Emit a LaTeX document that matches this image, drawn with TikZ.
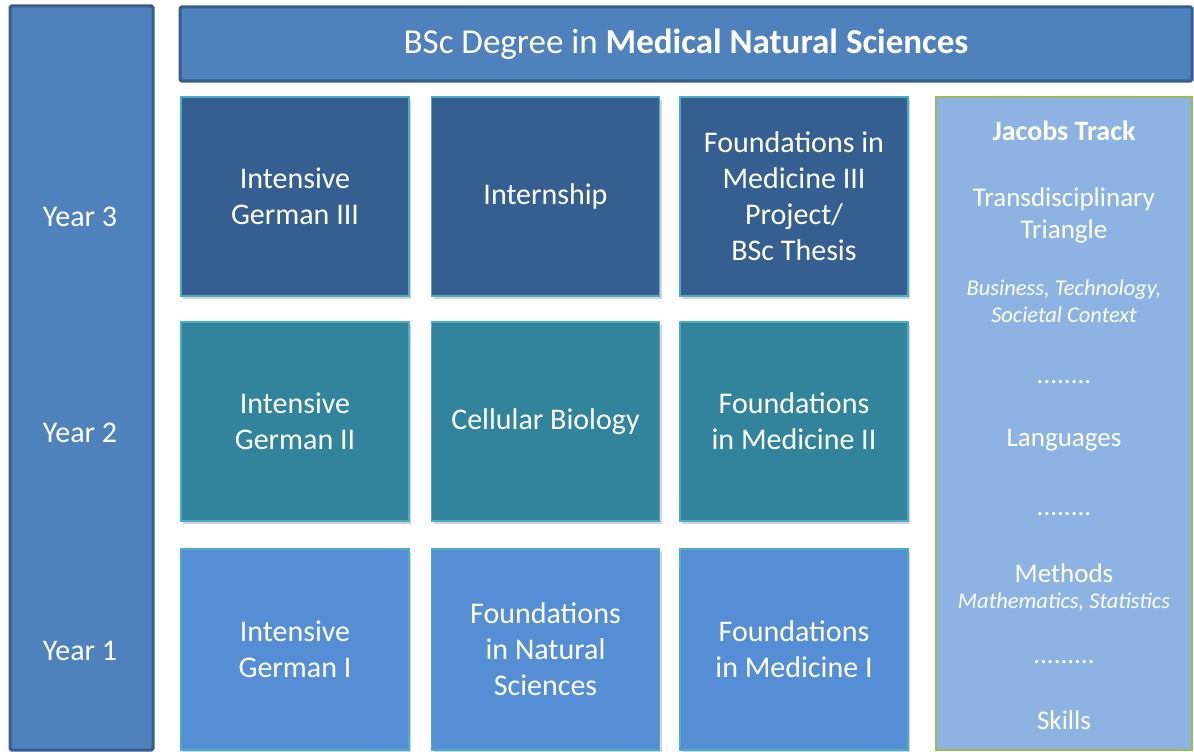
\documentclass[tikz,border=0pt]{standalone}
\usepackage{fontspec}
\setmainfont{Carlito}
\usetikzlibrary{shadows}
\definecolor{yearblue}{RGB}{79,129,189}
\definecolor{yearedge}{RGB}{56,93,138}
\definecolor{rowthree}{RGB}{54,95,145}
\definecolor{rowtwo}{RGB}{49,132,155}
\definecolor{rowone}{RGB}{85,142,213}
\definecolor{modedge}{RGB}{75,172,198}
\definecolor{trackfill}{RGB}{141,179,226}
\definecolor{trackedge}{RGB}{155,187,89}

\tikzset{
  frame/.style={draw=yearedge, line width=3pt, fill=yearblue, rounded corners=1.5pt, inner sep=0pt},
  module/.style={draw=modedge, line width=1.2pt, minimum width=228pt, minimum height=199pt,
    text width=224pt, align=flush center, text=white, inner sep=0pt,
    drop shadow={shadow xshift=2pt, shadow yshift=-3pt, opacity=0.35}},
  big/.style={font=\fontsize{30}{36}\selectfont, text=white, align=flush center},
  mid/.style={font=\fontsize{27}{32}\selectfont, text=white, align=flush center},
  small/.style={font=\fontsize{22.5}{27}\selectfont\itshape, text=white, align=flush center},
}

\begin{document}
\begin{tikzpicture}[x=1pt, y=-1pt]
\useasboundingbox (0,0) rectangle (1194,752);

% year column
\node[frame, minimum width=143pt, minimum height=744pt] (years) at (81.5,378) {};
\node[big] (year3) at (80,217) {Year 3};
\node[big] (year2) at (80,433) {Year 2};
\node[big] (year1) at (80,651) {Year 1};

% title
\node[frame, minimum width=1012pt, minimum height=74pt, big, font=\fontsize{35}{40}\selectfont] (title) at (686,44)
  {BSc Degree in \textbf{Medical Natural Sciences}};

% year 3
\node[module, fill=rowthree, big] (ger3) at (295,196.5) {Intensive\\German III};
\node[module, fill=rowthree, big] (intern) at (545.5,196.5) {Internship};
\node[module, fill=rowthree, big] (med3) at (794,196.5)
  {Foundations in\\Medicine III\\Project/\\BSc Thesis};

% year 2
\node[module, fill=rowtwo, big] (ger2) at (295,421.5) {Intensive\\German II};
\node[module, fill=rowtwo, big] (cell) at (545.5,421.5) {Cellular Biology};
\node[module, fill=rowtwo, big] (med2) at (794,421.5) {Foundations\\in Medicine II};

% year 1
\node[module, fill=rowone, big, minimum height=201pt] (ger1) at (295,649.5) {Intensive\\German I};
\node[module, fill=rowone, big, minimum height=201pt] (natsci) at (545.5,649.5)
  {Foundations\\in Natural\\Sciences};
\node[module, fill=rowone, big, minimum height=201pt] (med1) at (794,649.5)
  {Foundations\\in Medicine I};

% jacobs track
\node[draw=trackedge, line width=1.5pt, fill=trackfill, minimum width=256pt,
  minimum height=653pt, inner sep=0pt] (track) at (1064,423.5) {};
\node[mid, font=\fontsize{28}{32}\selectfont\bfseries] (jt) at (1064,131) {Jacobs Track};
\node[mid] (trans) at (1064,215) {Transdisciplinary\\Triangle};
\node[small] (btsc) at (1064,301) {Business, Technology,\\Societal Context};
\node[mid, anchor=base] (dots1) at (1064,383) {........};
\node[mid] (lang) at (1064,440) {Languages};
\node[mid, anchor=base] (dots2) at (1064,515) {........};
\node[mid] (meth) at (1064,573) {Methods};
\node[small] (mathstat) at (1064,602) {Mathematics, Statistics};
\node[mid, anchor=base] (dots3) at (1064,663) {.........};
\node[mid] (skills) at (1064,720) {Skills};

\end{tikzpicture}
\end{document}
